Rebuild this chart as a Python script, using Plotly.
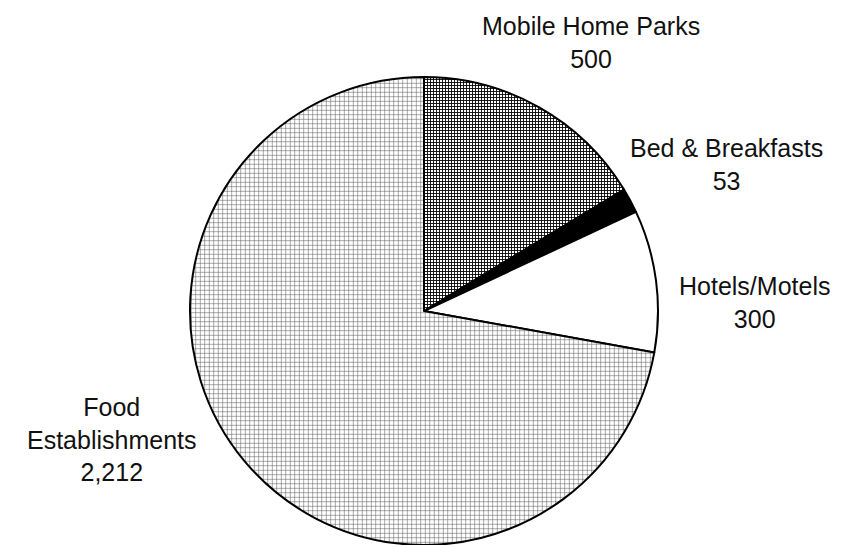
import plotly.graph_objects as go

categories = ["Mobile Home Parks", "Bed & Breakfasts", "Hotels/Motels", "Food Establishments"]
values = [500, 53, 300, 2212]
value_labels = ["500", "53", "300", "2,212"]
label_text = ["Mobile Home Parks", "Bed & Breakfasts", "Hotels/Motels", "Food<br>Establishments"]

# label placement (paper pixel centres), layout only
W, H = 847, 545
label_pos = [(591, 42), (726, 165), (754, 302), (112, 439)]

patterns = [
    dict(shape="+", size=3, solidity=0.5, fgcolor="black", bgcolor="white"),
    dict(shape="", bgcolor="black"),
    dict(shape="", bgcolor="white"),
    dict(shape="+", size=4.5, solidity=0.2, fgcolor="#4a4a4a", bgcolor="white"),
]
fills = ["white", "black", "white", "white"]

fig = go.Figure(go.Pie(
    labels=categories,
    values=values,
    sort=False,
    direction="clockwise",
    rotation=0,
    textinfo="none",
    hoverinfo="label+value",
    marker=dict(
        colors=fills,
        line=dict(color="black", width=2),
        pattern=dict(
            shape=[p["shape"] for p in patterns],
            size=[p.get("size", 8) for p in patterns],
            solidity=[p.get("solidity", 0.3) for p in patterns],
            fgcolor=[p.get("fgcolor", "black") for p in patterns],
            bgcolor=[p["bgcolor"] for p in patterns],
            fillmode="replace",
        ),
    ),
    domain=dict(x=[424 / W - 0.3, 424 / W + 0.3], y=[0, 468 / H]),
    showlegend=False,
))

for txt, val, (px, py) in zip(label_text, value_labels, label_pos):
    fig.add_annotation(
        x=px / W, y=1 - py / H, xref="paper", yref="paper",
        text=f"{txt}<br>{val}", showarrow=False,
        xanchor="center", yanchor="middle", align="center",
        font=dict(family="Liberation Sans, Arial, sans-serif", size=25, color="#111111"),
    )

fig.update_layout(
    width=W, height=H,
    margin=dict(l=0, r=0, t=0, b=0),
    paper_bgcolor="white",
    plot_bgcolor="white",
)

fig.write_html("out.html")
